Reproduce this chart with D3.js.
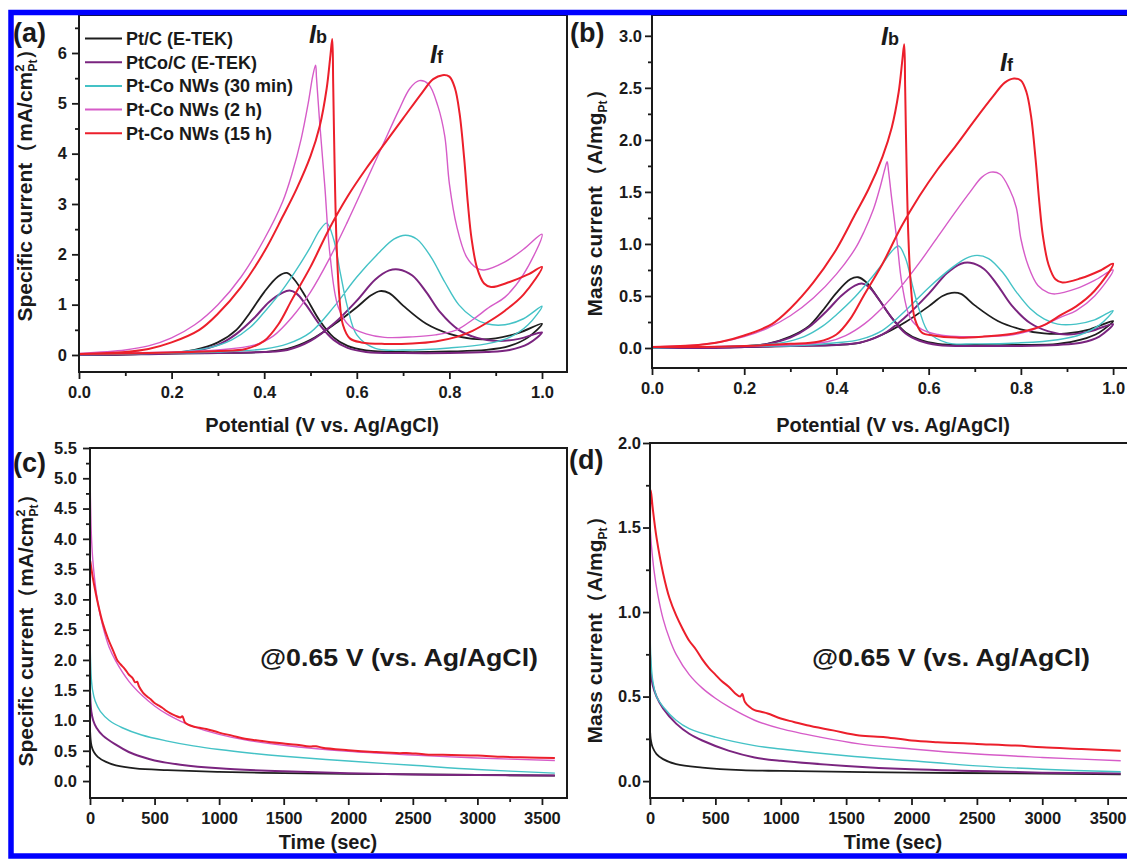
<!DOCTYPE html>
<html>
<head>
<meta charset="utf-8">
<script src="https://cdn.jsdelivr.net/npm/d3@7"></script>
<style>
  body { margin: 0; background: #fff; }
  svg text { font-family: "Liberation Sans", Arial, sans-serif; font-weight: bold; fill: #1a1a1a; }
</style>
</head>
<body>
<svg id="fig" width="1127" height="859"></svg>
<script>
// series (same order in every panel)
var seriesNames = ["Pt/C (E-TEK)", "PtCo/C (E-TEK)", "Pt-Co NWs (30 min)", "Pt-Co NWs (2 h)", "Pt-Co NWs (15 h)"];
var seriesColors = ["#1e1e1e", "#7a247f", "#44c2c6", "#d65cc8", "#ec1f2b"];
var seriesWidths = [1.8, 2, 1.4, 1.4, 2];

// tick values
var cvXTicks = [0, 0.2, 0.4, 0.6, 0.8, 1.0];
var cvXMinor = [0.1, 0.3, 0.5, 0.7, 0.9];
var aYTicks = [0, 1, 2, 3, 4, 5, 6];
var aYMinor = [0.5, 1.5, 2.5, 3.5, 4.5, 5.5, 6.5];
var bYTicks = [0, 0.5, 1.0, 1.5, 2.0, 2.5, 3.0];
var bYMinor = [0.25, 0.75, 1.25, 1.75, 2.25, 2.75];
var caXTicks = [0, 500, 1000, 1500, 2000, 2500, 3000, 3500];
var caXMinor = [250, 750, 1250, 1750, 2250, 2750, 3250];
var cYTicks = [0, 0.5, 1.0, 1.5, 2.0, 2.5, 3.0, 3.5, 4.0, 4.5, 5.0, 5.5];
var cYMinor = [0.25, 0.75, 1.25, 1.75, 2.25, 2.75, 3.25, 3.75, 4.25, 4.75, 5.25];
var dYTicks = [0, 0.5, 1.0, 1.5, 2.0];
var dYMinor = [0.25, 0.75, 1.25, 1.75];

// (a) specific current CV loops: [potential V, mA/cm2], forward then backward scan
var cvA_ptc = [[0,0.02],[0.1,0.02],[0.2,0.03],[0.3,0.04],[0.4,0.06],[0.45,0.12],[0.5,0.3],[0.55,0.6],[0.6,0.95],[0.63,1.18],[0.65,1.27],[0.67,1.23],[0.7,0.98],[0.75,0.62],[0.8,0.42],[0.85,0.32],[0.9,0.33],[0.95,0.44],[1.0,0.62],
  [0.97,0.35],[0.93,0.18],[0.88,0.1],[0.8,0.07],[0.7,0.06],[0.62,0.09],[0.58,0.18],[0.55,0.35],[0.52,0.68],[0.49,1.15],[0.465,1.5],[0.449,1.63],[0.43,1.56],[0.4,1.25],[0.37,0.85],[0.34,0.5],[0.3,0.25],[0.25,0.1],[0.2,0.04],[0.1,0.01],[0,0.0]];
var cvA_ptco = [[0,0.02],[0.1,0.02],[0.2,0.03],[0.3,0.04],[0.4,0.06],[0.45,0.1],[0.5,0.28],[0.55,0.62],[0.6,1.08],[0.64,1.5],[0.67,1.68],[0.69,1.7],[0.72,1.58],[0.75,1.25],[0.78,0.85],[0.82,0.5],[0.86,0.34],[0.9,0.28],[0.95,0.32],[1.0,0.45],
  [0.97,0.22],[0.93,0.1],[0.88,0.06],[0.8,0.04],[0.7,0.04],[0.62,0.06],[0.58,0.14],[0.55,0.3],[0.52,0.6],[0.49,1.0],[0.47,1.22],[0.455,1.28],[0.44,1.24],[0.41,1.05],[0.38,0.75],[0.34,0.42],[0.3,0.2],[0.25,0.08],[0.2,0.03],[0.1,0.01],[0,0.0]];
var cvA_nw30 = [[0,0.02],[0.1,0.03],[0.2,0.04],[0.3,0.06],[0.4,0.12],[0.45,0.22],[0.5,0.45],[0.55,0.95],[0.6,1.55],[0.65,2.05],[0.68,2.3],[0.705,2.38],[0.73,2.3],[0.76,1.95],[0.79,1.45],[0.82,1.0],[0.85,0.75],[0.88,0.62],[0.92,0.6],[0.96,0.72],[1.0,0.97],
  [0.97,0.6],[0.93,0.35],[0.88,0.22],[0.8,0.14],[0.7,0.1],[0.64,0.13],[0.6,0.4],[0.58,0.95],[0.565,1.6],[0.55,2.3],[0.535,2.62],[0.52,2.48],[0.5,2.15],[0.477,1.8],[0.44,1.3],[0.4,0.85],[0.37,0.55],[0.33,0.3],[0.28,0.14],[0.2,0.05],[0.1,0.02],[0,0.01]];
var cvA_nw2h = [[0,0.03],[0.1,0.04],[0.2,0.06],[0.3,0.1],[0.38,0.2],[0.42,0.38],[0.46,0.75],[0.5,1.25],[0.54,1.9],[0.58,2.65],[0.62,3.45],[0.66,4.25],[0.69,4.85],[0.715,5.3],[0.735,5.45],[0.755,5.38],[0.775,4.95],[0.79,4.35],[0.8,3.4],[0.816,2.55],[0.837,1.95],[0.86,1.72],[0.875,1.69],[0.92,1.85],[0.96,2.1],[1.0,2.4],
  [0.96,1.6],[0.92,1.15],[0.888,0.96],[0.85,0.7],[0.816,0.5],[0.77,0.4],[0.72,0.36],[0.66,0.35],[0.62,0.42],[0.585,0.57],[0.56,0.95],[0.542,2.0],[0.531,3.34],[0.52,4.6],[0.513,5.5],[0.511,5.76],[0.505,5.55],[0.495,5.0],[0.48,4.3],[0.46,3.6],[0.44,3.05],[0.4,2.3],[0.35,1.55],[0.3,1.0],[0.25,0.6],[0.2,0.34],[0.15,0.18],[0.1,0.1],[0,0.03]];
var cvA_nw15h = [[0,0.02],[0.1,0.03],[0.2,0.05],[0.3,0.08],[0.36,0.12],[0.4,0.28],[0.43,0.6],[0.46,1.1],[0.5,1.75],[0.54,2.5],[0.58,3.15],[0.62,3.7],[0.66,4.2],[0.7,4.7],[0.74,5.2],[0.765,5.48],[0.785,5.56],[0.8,5.53],[0.812,5.3],[0.822,4.8],[0.832,3.9],[0.84,3.0],[0.848,2.3],[0.86,1.72],[0.875,1.42],[0.89,1.35],[0.93,1.45],[0.97,1.6],[1.0,1.75],
  [0.96,1.2],[0.92,0.88],[0.888,0.68],[0.85,0.48],[0.816,0.36],[0.77,0.27],[0.72,0.23],[0.66,0.22],[0.61,0.25],[0.585,0.33],[0.57,0.6],[0.562,1.2],[0.556,2.3],[0.552,3.8],[0.549,5.4],[0.547,6.28],[0.543,5.95],[0.535,5.3],[0.52,4.55],[0.5,3.95],[0.47,3.3],[0.44,2.75],[0.4,2.05],[0.35,1.35],[0.3,0.82],[0.26,0.5],[0.2,0.25],[0.15,0.12],[0.1,0.06],[0,0.02]];

// (b) mass current CV loops: [potential V, A/mg]
var cvB_ptc = [[0,0.01],[0.1,0.01],[0.2,0.01],[0.3,0.02],[0.4,0.03],[0.45,0.05],[0.5,0.13],[0.55,0.25],[0.6,0.4],[0.63,0.5],[0.65,0.53],[0.67,0.52],[0.7,0.41],[0.75,0.26],[0.8,0.18],[0.85,0.14],[0.9,0.14],[0.95,0.18],[1.0,0.26],
  [0.97,0.15],[0.93,0.08],[0.88,0.04],[0.8,0.03],[0.7,0.03],[0.62,0.04],[0.58,0.08],[0.55,0.15],[0.52,0.29],[0.49,0.48],[0.465,0.63],[0.447,0.68],[0.43,0.66],[0.4,0.53],[0.37,0.36],[0.34,0.21],[0.3,0.11],[0.25,0.04],[0.2,0.02],[0.1,0.0],[0,0.0]];
var cvB_ptco = [[0,0.01],[0.1,0.01],[0.2,0.01],[0.3,0.02],[0.4,0.03],[0.45,0.05],[0.5,0.13],[0.55,0.3],[0.6,0.52],[0.64,0.72],[0.67,0.81],[0.69,0.82],[0.72,0.76],[0.75,0.6],[0.78,0.41],[0.82,0.24],[0.86,0.16],[0.9,0.13],[0.95,0.16],[1.0,0.23],
  [0.97,0.11],[0.93,0.05],[0.88,0.03],[0.8,0.02],[0.7,0.02],[0.62,0.03],[0.58,0.07],[0.55,0.14],[0.52,0.29],[0.49,0.48],[0.47,0.59],[0.455,0.62],[0.44,0.6],[0.41,0.5],[0.38,0.36],[0.34,0.2],[0.3,0.1],[0.25,0.04],[0.2,0.01],[0.1,0.0],[0,0.0]];
var cvB_nw30 = [[0,0.01],[0.1,0.01],[0.2,0.02],[0.3,0.02],[0.4,0.05],[0.45,0.08],[0.5,0.17],[0.55,0.36],[0.6,0.58],[0.65,0.77],[0.68,0.86],[0.705,0.89],[0.73,0.86],[0.76,0.73],[0.79,0.54],[0.82,0.38],[0.85,0.28],[0.88,0.23],[0.92,0.23],[0.96,0.27],[1.0,0.36],
  [0.97,0.22],[0.93,0.13],[0.88,0.08],[0.8,0.05],[0.7,0.04],[0.64,0.05],[0.6,0.15],[0.58,0.36],[0.565,0.6],[0.55,0.86],[0.535,0.98],[0.52,0.93],[0.5,0.81],[0.477,0.68],[0.44,0.49],[0.4,0.32],[0.37,0.21],[0.33,0.11],[0.28,0.05],[0.2,0.02],[0.1,0.01],[0,0.0]];
var cvB_nw2h = [[0,0.01],[0.1,0.01],[0.2,0.02],[0.3,0.03],[0.38,0.06],[0.42,0.12],[0.46,0.23],[0.5,0.39],[0.54,0.59],[0.58,0.82],[0.62,1.07],[0.66,1.32],[0.69,1.5],[0.715,1.64],[0.735,1.69],[0.755,1.67],[0.775,1.53],[0.79,1.35],[0.8,1.05],[0.816,0.79],[0.837,0.6],[0.86,0.53],[0.875,0.52],[0.92,0.57],[0.96,0.65],[1.0,0.75],
  [0.96,0.5],[0.92,0.36],[0.888,0.3],[0.85,0.22],[0.816,0.16],[0.77,0.12],[0.72,0.11],[0.66,0.11],[0.62,0.13],[0.585,0.18],[0.56,0.29],[0.542,0.62],[0.531,1.04],[0.52,1.43],[0.513,1.7],[0.51,1.79],[0.505,1.72],[0.495,1.55],[0.48,1.33],[0.46,1.12],[0.44,0.95],[0.4,0.71],[0.35,0.48],[0.3,0.31],[0.25,0.19],[0.2,0.11],[0.15,0.06],[0.1,0.03],[0,0.01]];
var cvB_nw15h = [[0,0.01],[0.1,0.01],[0.2,0.02],[0.3,0.04],[0.36,0.06],[0.4,0.13],[0.43,0.28],[0.46,0.51],[0.5,0.81],[0.54,1.16],[0.58,1.46],[0.62,1.72],[0.66,1.95],[0.7,2.19],[0.74,2.42],[0.765,2.55],[0.785,2.59],[0.8,2.57],[0.812,2.46],[0.822,2.23],[0.832,1.81],[0.84,1.4],[0.848,1.07],[0.86,0.8],[0.875,0.66],[0.89,0.63],[0.93,0.67],[0.97,0.74],[1.0,0.81],
  [0.96,0.55],[0.92,0.4],[0.888,0.32],[0.85,0.22],[0.816,0.17],[0.77,0.13],[0.72,0.11],[0.66,0.1],[0.61,0.12],[0.585,0.15],[0.57,0.28],[0.562,0.56],[0.556,1.07],[0.552,1.77],[0.549,2.51],[0.547,2.92],[0.543,2.77],[0.535,2.46],[0.52,2.12],[0.5,1.84],[0.47,1.53],[0.44,1.28],[0.4,0.95],[0.35,0.63],[0.3,0.38],[0.26,0.23],[0.2,0.12],[0.15,0.06],[0.1,0.03],[0,0.01]];

// (c) specific current vs time: [s, mA/cm2]
var caC_ptc = [[0,0],[0,0.85],[4,0.7],[12,0.58],[30,0.48],[60,0.4],[120,0.32],[200,0.26],[350,0.21],[600,0.18],[1000,0.15],[1500,0.13],[2000,0.12],[3000,0.1],[3600,0.09]];
var caC_ptco = [[0,0],[0,1.5],[4,1.3],[10,1.15],[25,1.0],[50,0.88],[100,0.75],[200,0.6],[300,0.48],[400,0.4],[500,0.34],[700,0.27],[1000,0.21],[1500,0.16],[2000,0.13],[2500,0.11],[3000,0.1],[3600,0.09]];
var caC_nw30 = [[0,0],[0,2.4],[4,2.0],[10,1.7],[20,1.5],[40,1.32],[80,1.15],[150,1.0],[250,0.88],[400,0.76],[600,0.66],[800,0.58],[1000,0.52],[1250,0.46],[1500,0.41],[2000,0.33],[2500,0.26],[3000,0.19],[3600,0.13]];
var caC_nw2h = [[0,0],[0,5.0],[4,4.6],[10,4.1],[20,3.7],[35,3.35],[60,2.95],[100,2.55],[150,2.2],[200,1.98],[300,1.65],[400,1.42],[500,1.24],[600,1.1],[700,0.99],[800,0.9],[1000,0.77],[1200,0.68],[1500,0.59],[2000,0.49],[2500,0.43],[3000,0.38],[3600,0.34]];
var caC_nw15h = [[0,0],[0,3.65],[8,3.55],[20,3.38],[40,3.15],[70,2.85],[100,2.6],[140,2.35],[180,2.15],[210,2.0],[220,1.97],[240,1.92],[270,1.85],[300,1.76],[330,1.7],[350,1.63],[365,1.64],[380,1.56],[410,1.46],[440,1.4],[470,1.35],[500,1.29],[530,1.25],[560,1.21],[590,1.16],[620,1.12],[660,1.08],[700,1.05],[715,1.07],[735,0.97],[760,0.93],[800,0.9],[850,0.88],[900,0.86],[1000,0.8],[1100,0.75],[1200,0.7],[1300,0.67],[1400,0.64],[1500,0.62],[1600,0.6],[1700,0.57],[1750,0.575],[1800,0.55],[2000,0.51],[2200,0.48],[2400,0.46],[2450,0.465],[2600,0.44],[2800,0.43],[3000,0.42],[3200,0.4],[3400,0.39],[3600,0.38]];

// (d) mass current vs time: [s, A/mg]
var caD_ptc = [[0,0],[0,0.3],[5,0.25],[20,0.2],[50,0.16],[100,0.13],[200,0.1],[400,0.08],[700,0.065],[1000,0.06],[2000,0.05],[3000,0.045],[3600,0.04]];
var caD_ptco = [[0,0],[0,0.75],[5,0.65],[20,0.57],[50,0.5],[100,0.43],[200,0.34],[300,0.28],[400,0.24],[600,0.18],[800,0.14],[1000,0.12],[1500,0.09],[2000,0.07],[2500,0.06],[3000,0.05],[3600,0.045]];
var caD_nw30 = [[0,0],[0,0.92],[5,0.75],[20,0.6],[50,0.5],[100,0.44],[200,0.36],[300,0.31],[500,0.26],[800,0.21],[1000,0.19],[1500,0.15],[2000,0.12],[2500,0.09],[3000,0.07],[3600,0.055]];
var caD_nw2h = [[0,0],[0,1.5],[10,1.4],[30,1.25],[60,1.1],[100,0.96],[150,0.84],[200,0.75],[300,0.63],[400,0.55],[500,0.49],[600,0.44],[800,0.36],[1000,0.31],[1300,0.26],[1600,0.22],[2000,0.19],[2500,0.16],[3000,0.14],[3600,0.12]];
var caD_nw15h = [[0,0],[0,1.55],[6,1.72],[20,1.62],[50,1.44],[100,1.23],[150,1.08],[200,0.98],[250,0.9],[300,0.83],[350,0.78],[400,0.72],[450,0.67],[500,0.63],[550,0.59],[600,0.56],[650,0.52],[690,0.5],[705,0.515],[725,0.47],[760,0.44],[800,0.42],[850,0.41],[900,0.4],[1000,0.37],[1100,0.35],[1200,0.33],[1400,0.3],[1600,0.27],[1800,0.26],[2000,0.24],[2200,0.23],[2500,0.22],[2800,0.21],[3000,0.2],[3300,0.19],[3600,0.18]];

var svg = d3.select('#fig');
svg.append('rect').attr('width', 1127).attr('height', 859).attr('fill', '#fff');

var panels = [
  { id: 'a', left: 79, right: 567, top: 15, bottom: 372, xDomain: [0, 1.054], yDomain: [-0.338, 6.755],
    xTicks: cvXTicks, xMinor: cvXMinor, yTicks: aYTicks, yMinor: aYMinor, xFmt: d3.format('.1f'), yFmt: d3.format('d'), yPad: 5,
    curves: [cvA_ptc, cvA_ptco, cvA_nw30, cvA_nw2h, cvA_nw15h] },
  { id: 'b', left: 652, right: 1138, top: 15, bottom: 368, xDomain: [0, 1.054], yDomain: [-0.192, 3.2],
    xTicks: cvXTicks, xMinor: cvXMinor, yTicks: bYTicks, yMinor: bYMinor, xFmt: d3.format('.1f'), yFmt: d3.format('.1f'), yPad: 3,
    curves: [cvB_ptc, cvB_ptco, cvB_nw30, cvB_nw2h, cvB_nw15h] },
  { id: 'c', left: 90, right: 567, top: 448, bottom: 798, xDomain: [0, 3694], yDomain: [-0.28, 5.5],
    xTicks: caXTicks, xMinor: caXMinor, yTicks: cYTicks, yMinor: cYMinor, xFmt: d3.format('d'), yFmt: d3.format('.1f'), yPad: 6,
    curves: [caC_ptc, caC_ptco, caC_nw30, caC_nw2h, caC_nw15h] },
  { id: 'd', left: 650, right: 1133, top: 443, bottom: 798, xDomain: [0, 3694], yDomain: [-0.1, 2.0],
    xTicks: caXTicks, xMinor: caXMinor, yTicks: dYTicks, yMinor: dYMinor, xFmt: d3.format('d'), yFmt: d3.format('.1f'), yPad: 2,
    curves: [caD_ptc, caD_ptco, caD_nw30, caD_nw2h, caD_nw15h] }
];

function drawPanel(p) {
  var x = d3.scaleLinear().domain(p.xDomain).range([p.left, p.right]);
  var y = d3.scaleLinear().domain(p.yDomain).range([p.bottom, p.top]);
  var g = svg.append('g').attr('class', 'panel-' + p.id);

  g.append('clipPath').attr('id', 'clip-' + p.id)
    .append('rect').attr('x', p.left).attr('y', p.top)
    .attr('width', p.right - p.left).attr('height', p.bottom - p.top);

  var line = d3.line()
    .curve(d3.curveCatmullRom.alpha(0.5))
    .x(function (d) { return x(d[0]); })
    .y(function (d) { return y(d[1]); });

  var plot = g.append('g').attr('clip-path', 'url(#clip-' + p.id + ')');
  p.curves.forEach(function (c, i) {
    plot.append('path')
      .attr('d', line(c))
      .attr('fill', 'none')
      .attr('stroke', seriesColors[i])
      .attr('stroke-width', seriesWidths[i])
      .attr('stroke-linejoin', 'round');
  });

  // axes: minor ticks first, then labelled ones
  g.append('g').attr('transform', 'translate(0,' + p.bottom + ')')
    .call(d3.axisBottom(x).tickValues(p.xMinor).tickSize(4).tickFormat(''));
  g.append('g').attr('transform', 'translate(0,' + p.bottom + ')')
    .call(d3.axisBottom(x).tickValues(p.xTicks).tickSize(7).tickPadding(7).tickFormat(p.xFmt));
  g.append('g').attr('transform', 'translate(' + p.left + ',0)')
    .call(d3.axisLeft(y).tickValues(p.yMinor).tickSize(4).tickFormat(''));
  g.append('g').attr('transform', 'translate(' + p.left + ',0)')
    .call(d3.axisLeft(y).tickValues(p.yTicks).tickSize(7).tickPadding(p.yPad).tickFormat(p.yFmt));

  g.selectAll('.domain').remove();
  g.selectAll('.tick line').attr('stroke', '#1a1a1a').attr('stroke-width', 1.8);
  g.selectAll('.tick text').attr('fill', '#1a1a1a')
    .style('font-size', '16.5px').style('font-family', '"Liberation Sans", Arial, sans-serif').style('font-weight', 'bold');

  g.append('rect')
    .attr('x', p.left).attr('y', p.top)
    .attr('width', p.right - p.left).attr('height', p.bottom - p.top)
    .attr('fill', 'none').attr('stroke', '#1a1a1a').attr('stroke-width', 2);
}

panels.forEach(drawPanel);

// panel letters
var letters = [['(a)', 13, 42], ['(b)', 570, 42], ['(c)', 13, 472], ['(d)', 569, 469]];
letters.forEach(function (l) {
  svg.append('text').attr('x', l[1]).attr('y', l[2]).style('font-size', '27px').text(l[0]);
});

// axis titles
function yTitle(cx, cy, main, sup) {
  var t = svg.append('text')
    .attr('transform', 'translate(' + cx + ',' + cy + ') rotate(-90)')
    .attr('text-anchor', 'middle')
    .style('font-size', '21px');
  t.append('tspan').text(main);
  if (sup) {
    t.append('tspan').attr('dy', -8).style('font-size', '13px').text(sup);
    t.append('tspan').attr('dx', -7).attr('dy', 13).style('font-size', '12px').text('Pt');
  } else {
    t.append('tspan').attr('dy', 5).style('font-size', '12px').text('Pt');
  }
  t.append('tspan').attr('dy', -5).text('）');
}
yTitle(32, 180, 'Specific current（mA/cm', '2');
yTitle(602, 198, 'Mass current（A/mg', null);
yTitle(33, 625, 'Specific current（mA/cm', '2');
yTitle(602, 625, 'Mass current（A/mg', null);

var xTitles = [['Potential (V vs. Ag/AgCl)', 322, 432], ['Potential (V vs. Ag/AgCl)', 893, 432],
               ['Time (sec)', 328, 849], ['Time (sec)', 893, 849]];
xTitles.forEach(function (t) {
  svg.append('text').attr('x', t[1]).attr('y', t[2]).attr('text-anchor', 'middle')
    .style('font-size', '20px').text(t[0]);
});

// legend in (a)
seriesNames.forEach(function (name, i) {
  var ly = 38.5 + i * 23.7;
  svg.append('line').attr('x1', 85).attr('x2', 122).attr('y1', ly).attr('y2', ly)
    .attr('stroke', seriesColors[i]).attr('stroke-width', 2);
  svg.append('text').attr('x', 126).attr('y', ly).attr('dy', '0.36em')
    .style('font-size', '18px').text(name);
});

// peak annotations
function peakLabel(x0, y0, sub) {
  var t = svg.append('text').attr('x', x0).attr('y', y0);
  t.append('tspan').style('font-size', '25px').style('font-style', 'italic').text('I');
  t.append('tspan').style('font-size', '18px').text(sub);
}
peakLabel(309, 43, 'b');
peakLabel(430, 63, 'f');
peakLabel(881, 45, 'b');
peakLabel(1000, 71, 'f');

// holding potential notes
[[399, 666], [951, 666]].forEach(function (p) {
  svg.append('text').attr('x', p[0]).attr('y', p[1]).attr('text-anchor', 'middle')
    .attr('textLength', 278).attr('lengthAdjust', 'spacingAndGlyphs')
    .style('font-size', '24px').text('@0.65 V (vs. Ag/AgCl)');
});

// blue outer border
svg.append('rect').attr('x', 11).attr('y', 12.5).attr('width', 1200).attr('height', 843.5)
  .attr('fill', 'none').attr('stroke', '#0000ff').attr('stroke-width', 5.5);
</script>
</body>
</html>
